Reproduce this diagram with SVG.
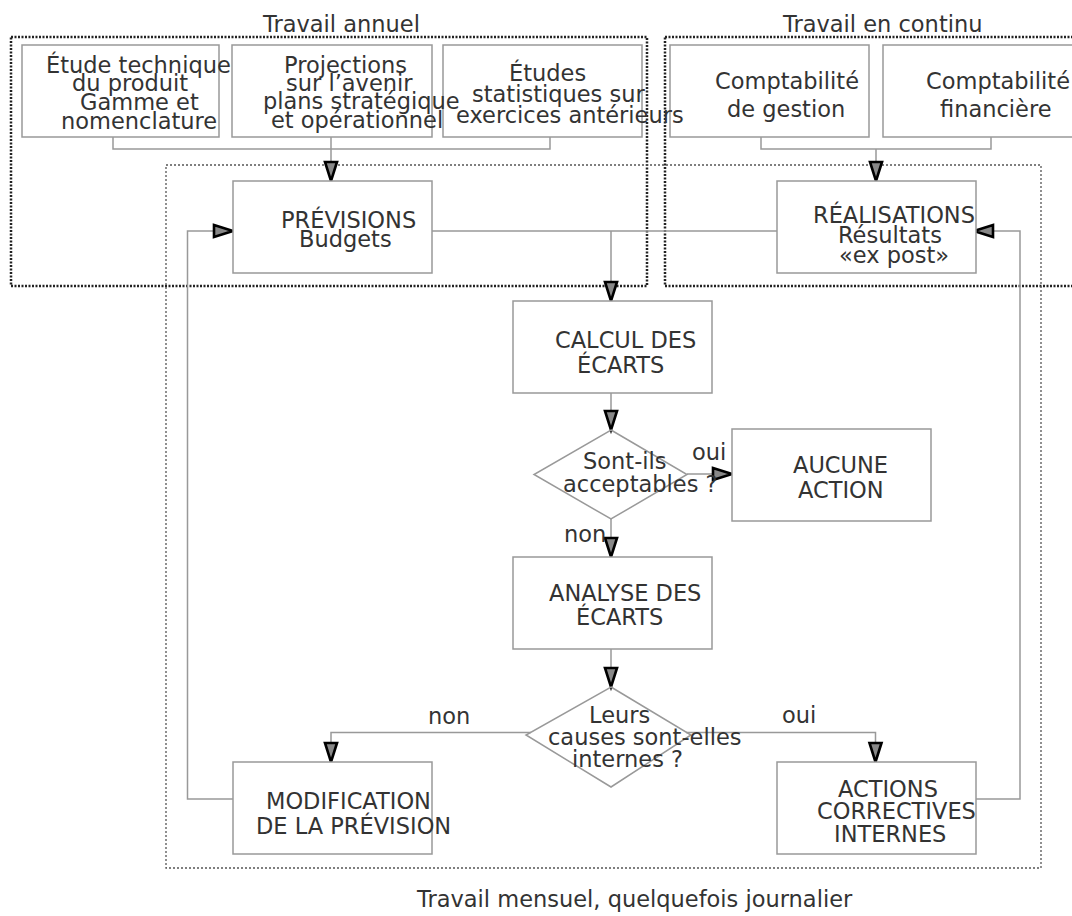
<svg xmlns="http://www.w3.org/2000/svg" width="1072" height="916" viewBox="0 0 1072 916">
<style>
text{font-family:"DejaVu Sans","Liberation Sans",sans-serif;font-size:22.5px;fill:#333}
.box{fill:#fff;stroke:#999;stroke-width:1.5}
.dia{fill:none;stroke:#999;stroke-width:1.5}
.zone{fill:none;stroke:#222;stroke-width:2.5;stroke-dasharray:2 1.5}
.zin{fill:none;stroke:#555;stroke-width:1.3;stroke-dasharray:2 2}
.c{fill:none;stroke:#999;stroke-width:1.5}
.a{marker-end:url(#arr)}
</style>
<defs>
<marker id="arr" viewBox="0 0 24 16" markerWidth="24" markerHeight="16" refX="21" refY="8" orient="auto" markerUnits="userSpaceOnUse" overflow="visible">
<path d="M2,2 L21,8 L2,14 Z" fill="#888" stroke="#000" stroke-width="2.6" stroke-linejoin="miter"/>
</marker>
</defs>
<g id="zones">
<rect class="zone" x="11" y="37" width="636" height="249"/>
<rect class="zone" x="665" y="37" width="412" height="249"/>
<rect class="zin" x="166" y="165" width="875" height="703"/>
<text x="263" y="32">Travail annuel</text>
<text x="783" y="32">Travail en continu</text>
<text x="417" y="907">Travail mensuel, quelquefois journalier</text>
</g>
<g id="connectors">
<polyline class="c" points="113,137 113,149 550,149 550,137"/>
<line class="c a" x1="331" y1="137" x2="331" y2="181"/>
<polyline class="c" points="761,137 761,149 991,149 991,137"/>
<line class="c a" x1="876" y1="149" x2="876" y2="181"/>
<line class="c" x1="432" y1="231" x2="777" y2="231"/>
<line class="c a" x1="611" y1="231" x2="611" y2="301"/>
<line class="c a" x1="611" y1="393" x2="611" y2="430"/>
<line class="c a" x1="687" y1="474" x2="732" y2="474"/>
<line class="c a" x1="611" y1="519" x2="611" y2="557"/>
<line class="c a" x1="611" y1="649" x2="611" y2="687"/>
<polyline class="c a" points="531,732.5 331,732.5 331,762"/>
<polyline class="c a" points="686,732.5 875.5,732.5 875.5,762"/>
<polyline class="c a" points="233,799 187.5,799 187.5,231 233,231"/>
<polyline class="c a" points="976,799 1020,799 1020,231 974,231"/>
</g>
<g id="n-financiere">
<rect class="box" x="883" y="45" width="200" height="92"/>
<text x="926" y="89">Comptabilité</text>
<text x="940" y="117">financière</text>
</g>
<g id="n-gestion">
<rect class="box" x="670" y="45" width="199" height="92"/>
<text x="715" y="89">Comptabilité</text>
<text x="727" y="117">de gestion</text>
</g>
<g id="n-etudes">
<rect class="box" x="443" y="45" width="199" height="92"/>
<text x="509" y="81">Études</text>
<text x="472" y="102">statistiques sur</text>
<text x="456" y="123">exercices antérieurs</text>
</g>
<g id="n-projections">
<rect class="box" x="232" y="45" width="200" height="92"/>
<text x="284" y="73">Projections</text>
<text x="286" y="91">sur l’avenir</text>
<text x="263" y="109">plans stratégique</text>
<text x="271" y="128">et opérationnel</text>
</g>
<g id="n-etude">
<rect class="box" x="22" y="45" width="197" height="92"/>
<text x="46" y="73">Étude technique</text>
<text x="72" y="91">du produit</text>
<text x="80" y="110">Gamme et</text>
<text x="61" y="129">nomenclature</text>
</g>
<g id="n-previsions">
<rect class="box" x="233" y="181" width="199" height="92"/>
<text x="281" y="228">PRÉVISIONS</text>
<text x="299" y="247">Budgets</text>
</g>
<g id="n-realisations">
<rect class="box" x="777" y="181" width="199" height="92"/>
<text x="813" y="223">RÉALISATIONS</text>
<text x="838" y="243">Résultats</text>
<text x="839" y="263">«ex post»</text>
</g>
<g id="n-calcul">
<rect class="box" x="513" y="301" width="199" height="92"/>
<text x="555" y="348">CALCUL DES</text>
<text x="577" y="373">ÉCARTS</text>
</g>
<g id="n-acceptables">
<polygon class="dia" points="611,430 687,474.5 611,519 534,474.5"/>
<text x="583" y="469">Sont-ils</text>
<text x="563" y="492">acceptables ?</text>
<text x="692" y="460">oui</text>
<text x="564" y="542">non</text>
</g>
<g id="n-aucune">
<rect class="box" x="732" y="429" width="199" height="92"/>
<text x="793" y="473">AUCUNE</text>
<text x="798" y="498">ACTION</text>
</g>
<g id="n-analyse">
<rect class="box" x="513" y="557" width="199" height="92"/>
<text x="549" y="601">ANALYSE DES</text>
<text x="576" y="625">ÉCARTS</text>
</g>
<g id="n-internes">
<polygon class="dia" points="611,687 691,735 611,787 526,735"/>
<text x="589" y="723">Leurs</text>
<text x="548" y="745">causes sont-elles</text>
<text x="572" y="767">internes ?</text>
<text x="428" y="724">non</text>
<text x="782" y="723">oui</text>
</g>
<g id="n-modification">
<rect class="box" x="233" y="762" width="199" height="92"/>
<text x="266" y="809">MODIFICATION</text>
<text x="256" y="834">DE LA PRÉVISION</text>
</g>
<g id="n-actions">
<rect class="box" x="777" y="762" width="199" height="92"/>
<text x="838" y="797">ACTIONS</text>
<text x="817" y="819">CORRECTIVES</text>
<text x="834" y="842">INTERNES</text>
</g>
</svg>
